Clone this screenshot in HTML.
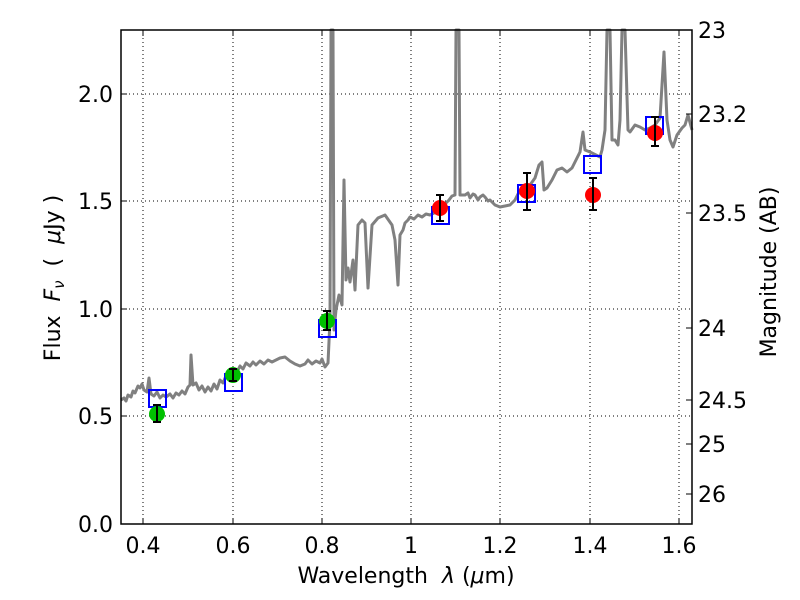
<!DOCTYPE html>
<html><head><style>body{margin:0;background:#fff}svg{display:block}text{font-family:"DejaVu Sans","Liberation Sans",sans-serif;font-size:22px;fill:#000}</style></head><body>
<svg width="800" height="600" xmlns="http://www.w3.org/2000/svg">
<g stroke="#000" stroke-width="1" stroke-dasharray="1,3">
<line x1="143" y1="30" x2="143" y2="524"/><line x1="233" y1="30" x2="233" y2="524"/><line x1="322" y1="30" x2="322" y2="524"/><line x1="411" y1="30" x2="411" y2="524"/><line x1="500" y1="30" x2="500" y2="524"/><line x1="590" y1="30" x2="590" y2="524"/><line x1="679" y1="30" x2="679" y2="524"/>
<line x1="121" y1="416" x2="692" y2="416"/><line x1="121" y1="309" x2="692" y2="309"/><line x1="121" y1="201" x2="692" y2="201"/><line x1="121" y1="94" x2="692" y2="94"/>
</g>
<polyline fill="none" stroke="#808080" stroke-width="3" stroke-linejoin="round" points="121,400 124,398 126,401 128,395 131,397 133,391 135,393 138,386 140,388 142,384 144,390 147,392 149,378 151,394 154,396 157,392 160,398 163,395 166,397 170,394 173,398 176,393 179,395 182,391 185,394 188,387 190,385 191,355 193,385 196,383 199,390 202,386 205,392 208,387 211,391 214,384 217,389 220,380 223,383 226,376 230,378 233,372 236,374 240,366 243,369 246,363 250,366 253,362 256,365 260,361 264,364 268,360 272,362 276,360 280,358 285,357 290,361 295,364 300,366 305,364 308,360 312,364 316,361 320,363 322,359 325,367 328,363 330,320 331,30 333,30 334,330 336,310 339,295 342,305 344,180 346,280 348,268 350,282 353,260 355,290 358,225 362,220 365,223 368,288 372,225 378,218 385,215 392,225 395,240 398,285 400,235 403,230 405,223 408,220 410,217 414,219 418,215 422,217 426,214 430,215 434,213 440,212 445,204 449,200 452,196 455,195 456,30 459,30 460,195 465,195 468,193 470,198 473,194 475,195 478,200 480,197 483,195 485,197 488,201 490,200 495,205 500,207 505,206 510,205 515,200 520,190 525,192 530,185 535,178 539,165 542,162 544,190 547,188 552,180 557,170 562,168 567,172 572,168 576,160 580,152 583,132 585,150 590,152 600,157 602,150 605,130 607,30 610,30 612,140 615,140 618,145 620,120 622,30 625,30 628,130 630,132 635,125 640,127 645,130 650,128 655,125 660,118 664,52 667,120 670,140 673,147 677,135 682,128 685,125 688,115 692,130"/>
<g fill="none" stroke="#00f" stroke-width="2">
<rect x="149" y="390" width="17" height="17"/><rect x="225" y="374" width="17" height="17"/><rect x="319" y="320" width="17" height="17"/><rect x="432" y="207" width="17" height="17"/><rect x="518" y="185" width="17" height="17"/><rect x="584" y="156" width="17" height="17"/><rect x="646" y="117" width="17" height="17"/>
</g>
<g fill="#00c000"><circle cx="157" cy="414" r="8"/><circle cx="233" cy="375" r="8"/><circle cx="327" cy="321" r="8"/></g>
<g fill="#f00"><circle cx="440" cy="208" r="8"/><circle cx="527" cy="191" r="8"/><circle cx="593" cy="195" r="8"/><circle cx="655" cy="133" r="8"/></g>
<g stroke="#000" stroke-width="2">
<path d="M157,405V422M153,405h8M153,422h8"/><path d="M233,369V381M229,369h8M229,381h8"/><path d="M327,311V330M323,311h8M323,330h8"/>
<path d="M440,195V221M436,195h8M436,221h8"/><path d="M527,173V210M523,173h8M523,210h8"/><path d="M593,178V210M589,178h8M589,210h8"/><path d="M655,117V146M651,117h8M651,146h8"/>
</g>
<rect x="121" y="30" width="571" height="494" fill="none" stroke="#000" stroke-width="1.5"/>
<g stroke="#000" stroke-width="1">
<path d="M121,524h6M121,416h6M121,309h6M121,201h6M121,94h6M143,524v-6M233,524v-6M322,524v-6M411,524v-6M500,524v-6M590,524v-6M679,524v-6M143,30v6M233,30v6M322,30v6M411,30v6M500,30v6M590,30v6M679,30v6"/>
<path d="M692,30h-6M692,114h-6M692,213h-6M692,328h-6M692,400h-6M692,444h-6M692,494h-6"/>
</g>
<g text-anchor="end"><text x="113" y="532">0.0</text><text x="113" y="424">0.5</text><text x="113" y="317">1.0</text><text x="113" y="209">1.5</text><text x="113" y="102">2.0</text></g>
<g text-anchor="middle"><text x="143" y="553">0.4</text><text x="233" y="553">0.6</text><text x="322" y="553">0.8</text><text x="411" y="553">1</text><text x="500" y="553">1.2</text><text x="590" y="553">1.4</text><text x="679" y="553">1.6</text>
<text x="406" y="583">Wavelength&#160;&#160;<tspan font-style="italic">λ</tspan>&#160;(<tspan font-style="italic">μ</tspan>m)</text></g>
<g><text x="698" y="38">23</text><text x="698" y="122">23.2</text><text x="698" y="221">23.5</text><text x="698" y="336">24</text><text x="698" y="408">24.5</text><text x="698" y="452">25</text><text x="698" y="502">26</text></g>
<text transform="translate(60,278) rotate(-90)" text-anchor="middle">Flux&#160;&#160;<tspan font-style="italic">F</tspan><tspan font-style="italic" font-size="15" dy="4">ν</tspan><tspan dy="-4">&#160;&#160;(&#160;&#160;</tspan><tspan font-style="italic">μ</tspan>Jy&#160;)</text>
<text transform="translate(776,272) rotate(-90)" text-anchor="middle">Magnitude (AB)</text>
</svg>
</body></html>
